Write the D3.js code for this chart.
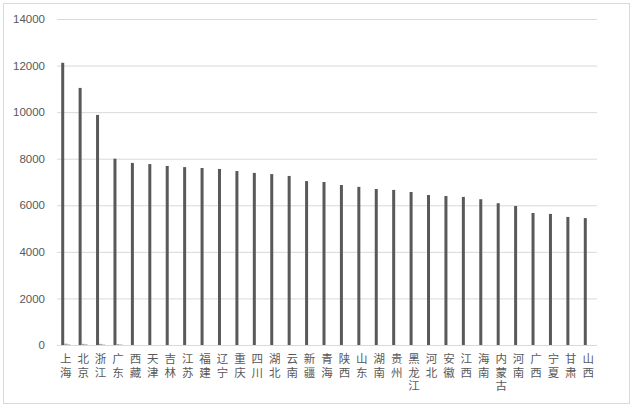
<!DOCTYPE html>
<html><head><meta charset="utf-8">
<script src="https://cdn.jsdelivr.net/npm/d3@7"></script>
<style>body{margin:0;background:#fff}svg{display:block}</style>
</head><body>
<svg id="c" width="632" height="408"></svg>
<script>
const categories = ["上海","北京","浙江","广东","西藏","天津","吉林","江苏","福建","辽宁","重庆","四川","湖北","云南","新疆","青海","陕西","山东","湖南","贵州","黑龙江","河北","安徽","江西","海南","内蒙古","河南","广西","宁夏","甘肃","山西"];
const seriesMain = [12120,11040,9880,8000,7820,7770,7690,7640,7600,7560,7470,7390,7340,7260,7040,7000,6870,6790,6700,6660,6570,6440,6400,6360,6260,6090,5970,5670,5630,5500,5450];
const seriesB = [60,50,50,40,0,0,0,0,0,0,0,0,0,0,0,0,0,0,0,0,0,0,0,0,0,0,0,0,0,0,0];
const seriesC = [40,40,30,30,0,0,0,0,0,0,0,0,0,0,0,0,0,0,0,0,0,0,0,0,0,0,0,0,0,0,0];
const yTicks = [0,2000,4000,6000,8000,10000,12000,14000];

const svg = d3.select("#c");
svg.append("rect").attr("x",3.5).attr("y",3.5).attr("width",626).attr("height",400)
  .attr("fill","#fff").attr("stroke","#d9d9d9");

const L=57,R=597,T=19,B=345;
const x = d3.scaleBand().domain(categories).range([L,R]).paddingInner(0).paddingOuter(0);
const y = d3.scaleLinear().domain([0,14000]).range([B,T]);
const sub = d3.scaleBand().domain(["a","b","c"]).range([-4.5,4.5]);

svg.append("g").selectAll("line").data(yTicks).enter().append("line")
  .attr("x1",L).attr("x2",R).attr("y1",d=>y(d)+0.5).attr("y2",d=>y(d)+0.5)
  .attr("stroke","#d9d9d9").attr("stroke-width",1);

const yAxis = d3.axisLeft(y).tickValues(yTicks).tickSize(0).tickPadding(12).tickFormat(d3.format("d"));
const ya = svg.append("g").attr("transform",`translate(${L},0)`).call(yAxis);
ya.select(".domain").remove();
ya.selectAll("text").attr("fill","#595959").style("font-family","'Liberation Sans',Arial,sans-serif").style("font-size","11.5px");

const sets = [["a",seriesMain,"#595959"],["b",seriesB,"#a6a6a6"],["c",seriesC,"#bfbfbf"]];
sets.forEach(([k,vals,col])=>{
  svg.append("g").selectAll("rect").data(categories).enter().append("rect")
    .attr("x",d=>x(d)+x.bandwidth()/2+sub(k))
    .attr("width",sub.bandwidth())
    .attr("y",(d,i)=>y(vals[i]))
    .attr("height",(d,i)=>B-y(vals[i]))
    .attr("fill",col);
});

const xa = svg.append("g");
categories.forEach(c=>{
  Array.from(c).forEach((ch,i)=>{
    xa.append("text").attr("x",x(c)+x.bandwidth()/2).attr("y",B+18+i*13.5)
      .attr("text-anchor","middle").attr("fill","#595959")
      .style("font-family","'Noto Sans CJK SC',sans-serif").style("font-size","11.5px")
      .text(ch);
  });
});
</script>
</body></html>
